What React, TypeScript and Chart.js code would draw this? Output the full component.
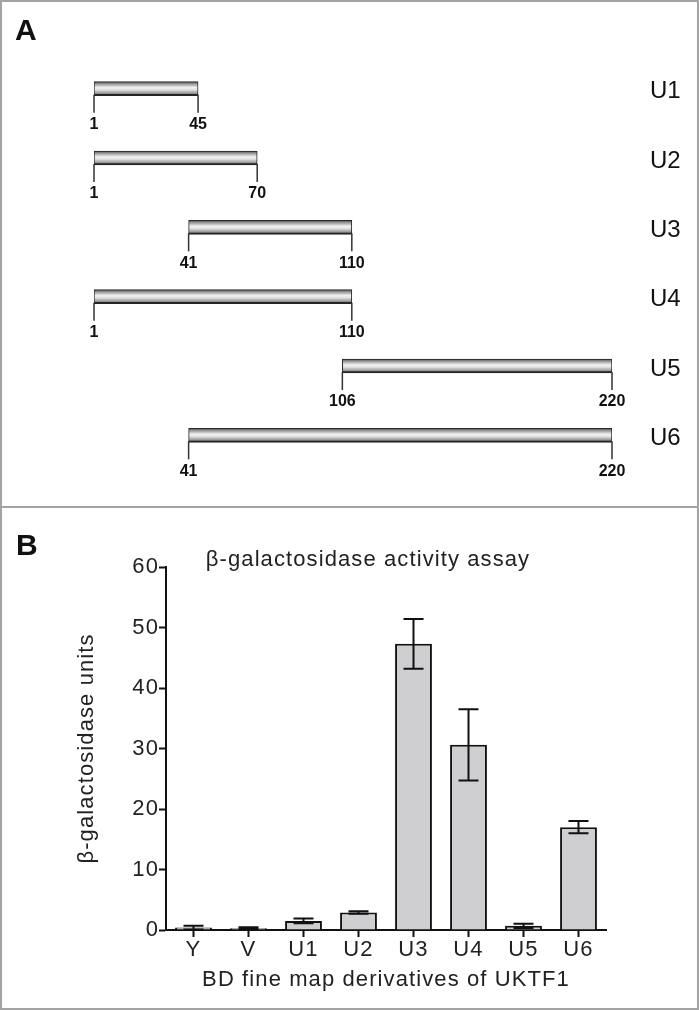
import React, { useEffect, useRef } from "react";
import { Chart, registerables } from "chart.js";

Chart.register(...registerables);

// ---------- Panel A data ----------
const constructNames = ["U1", "U2", "U3", "U4", "U5", "U6"];
const constructStart = [1, 1, 41, 1, 106, 41];
const constructEnd = [45, 70, 110, 110, 220, 220];
const domainMin = 1;
const domainMax = 220;

// ---------- Panel B data ----------
const assayCategories = ["Y", "V", "U1", "U2", "U3", "U4", "U5", "U6"];
const assayMeans = [0.4, 0.3, 1.5, 2.9, 47.3, 30.6, 0.7, 17.0];
const assayErrors = [0.3, 0.15, 0.4, 0.2, 4.1, 5.9, 0.35, 1.0];
const assayTicks = [0, 10, 20, 30, 40, 50, 60];

const FONT = 'Arial, "Liberation Sans", Helvetica, sans-serif';

const textPlugin = (id: string, items: { text: string; x: number; y: number; font: string; align?: CanvasTextAlign; color?: string }[]) => ({
  id,
  afterDraw(chart: any) {
    const ctx = chart.ctx;
    ctx.save();
    items.forEach((it) => {
      ctx.font = it.font;
      ctx.fillStyle = it.color || "#111";
      ctx.textAlign = it.align || "left";
      ctx.textBaseline = "alphabetic";
      ctx.fillText(it.text, it.x, it.y);
    });
    ctx.restore();
  },
});

const spacingPlugin = (px: string) => ({
  id: "letterSpacing",
  beforeDraw(chart: any) {
    try {
      (chart.ctx as any).letterSpacing = px;
    } catch (e) {
      /* unsupported */
    }
  },
});

const endMarksPlugin = {
  id: "endMarks",
  afterDatasetsDraw(chart: any) {
    const ctx = chart.ctx;
    const meta = chart.getDatasetMeta(0);
    ctx.save();
    meta.data.forEach((bar: any, i: number) => {
      const p = bar.getProps(["x", "y", "base", "height"], true);
      const bottom = p.y + p.height / 2;
      ctx.strokeStyle = "#333";
      ctx.lineWidth = 1.5;
      [p.base, p.x].forEach((px: number) => {
        ctx.beginPath();
        ctx.moveTo(px, bottom - 1);
        ctx.lineTo(px, bottom + 17);
        ctx.stroke();
      });
      ctx.fillStyle = "#111";
      ctx.font = `bold 16px ${FONT}`;
      ctx.textAlign = "center";
      ctx.textBaseline = "middle";
      ctx.fillText(String(constructStart[i]), p.base, p.y + 36);
      ctx.fillText(String(constructEnd[i]), p.x, p.y + 36);
    });
    ctx.restore();
  },
};

const errorBarsPlugin = {
  id: "errorBars",
  afterDatasetsDraw(chart: any) {
    const ctx = chart.ctx;
    const ys = chart.scales.y;
    const meta = chart.getDatasetMeta(0);
    ctx.save();
    ctx.strokeStyle = "#111";
    ctx.lineWidth = 2;
    meta.data.forEach((bar: any, i: number) => {
      const x = bar.x;
      const top = ys.getPixelForValue(assayMeans[i] + assayErrors[i]);
      const bot = ys.getPixelForValue(Math.max(0, assayMeans[i] - assayErrors[i]));
      ctx.beginPath();
      ctx.moveTo(x, top);
      ctx.lineTo(x, bot);
      ctx.moveTo(x - 10, top);
      ctx.lineTo(x + 10, top);
      ctx.moveTo(x - 10, bot);
      ctx.lineTo(x + 10, bot);
      ctx.stroke();
    });
    ctx.restore();
  },
};

function barGradient(c: any) {
  const chart = c.chart;
  const ys = chart.scales && chart.scales.y;
  if (!ys || !chart.chartArea) return "#cccccc";
  const yc = ys.getPixelForValue(c.dataIndex);
  if (!isFinite(yc)) return "#cccccc";
  const g = chart.ctx.createLinearGradient(0, yc - 7, 0, yc + 7);
  g.addColorStop(0, "#4a4a4a");
  g.addColorStop(0.14, "#8e8e8e");
  g.addColorStop(0.42, "#f2f2f2");
  g.addColorStop(0.58, "#e2e2e2");
  g.addColorStop(0.84, "#949494");
  g.addColorStop(1, "#444444");
  return g;
}

export default function App() {
  const refA = useRef<HTMLCanvasElement>(null);
  const refB = useRef<HTMLCanvasElement>(null);

  useEffect(() => {
    const chartA = new Chart(refA.current as HTMLCanvasElement, {
      type: "bar",
      data: {
        labels: constructNames,
        datasets: [
          {
            data: constructStart.map((s, i) => [s, constructEnd[i]]) as any,
            backgroundColor: barGradient as any,
            borderColor: "#262626",
            borderWidth: { top: 1, bottom: 2, left: 1, right: 1 } as any,
            borderSkipped: false,
            barThickness: 14,
          },
        ],
      },
      options: {
        indexAxis: "y",
        responsive: false,
        animation: false,
        events: [],
        layout: { padding: { left: 94, right: 0, top: 54, bottom: 37 } },
        plugins: { legend: { display: false }, tooltip: { enabled: false }, title: { display: false } },
        scales: {
          x: { type: "linear", min: domainMin, max: domainMax, display: false },
          y: {
            position: "right",
            grid: { display: true, drawOnChartArea: false, drawTicks: true, tickLength: 38, tickColor: "rgba(0,0,0,0)" },
            border: { display: false },
            ticks: { padding: 0, labelOffset: 3, color: "#111", font: { family: FONT, size: 24 } },
            afterFit: (s: any) => {
              s.width = 87;
            },
          },
        },
      },
      plugins: [endMarksPlugin, textPlugin("labelA", [{ text: "A", x: 15, y: 40, font: `bold 30px ${FONT}` }])],
    });

    const chartB = new Chart(refB.current as HTMLCanvasElement, {
      type: "bar",
      data: {
        labels: assayCategories,
        datasets: [
          {
            data: assayMeans,
            backgroundColor: "#cfcfd1",
            borderColor: "#111",
            borderWidth: 2,
            barPercentage: 0.67,
            categoryPercentage: 1,
          },
        ],
      },
      options: {
        responsive: false,
        animation: false,
        events: [],
        layout: { padding: { left: 70, right: 93, top: 59, bottom: 17 } },
        plugins: { legend: { display: false }, tooltip: { enabled: false }, title: { display: false } },
        scales: {
          x: {
            grid: { offset: false, drawOnChartArea: false, drawTicks: true, tickLength: 7, tickWidth: 2, tickColor: "#111" },
            border: { color: "#111", width: 2 },
            ticks: { padding: 0, color: "#222", font: { family: FONT, size: 22 } },
            title: {
              display: true,
              text: "BD fine map derivatives of UKTF1",
              color: "#222",
              font: { family: FONT, size: 22 },
              padding: { top: 0, bottom: 0 },
            },
            afterFit: (s: any) => {
              s.height = 63;
            },
          },
          y: {
            min: 0,
            max: 60,
            afterBuildTicks: (s: any) => {
              s.ticks = assayTicks.map((v) => ({ value: v }));
            },
            grid: { drawOnChartArea: false, drawTicks: true, tickLength: 7, tickWidth: 2, tickColor: "#111" },
            border: { color: "#111", width: 2 },
            ticks: { padding: 0, color: "#222", font: { family: FONT, size: 22 } },
            title: {
              display: true,
              text: "β-galactosidase units",
              color: "#222",
              font: { family: FONT, size: 22 },
              padding: { top: 4, bottom: 0 },
            },
            afterFit: (s: any) => {
              s.width = 96;
            },
          },
        },
      },
      plugins: [
        spacingPlugin("1.1px"),
        errorBarsPlugin,
        textPlugin("labelsB", [
          { text: "B", x: 16, y: 47, font: `bold 30px ${FONT}` },
          { text: "β-galactosidase activity assay", x: 368, y: 58, font: `22px ${FONT}`, align: "center", color: "#222" },
        ]),
      ],
    });

    return () => {
      chartA.destroy();
      chartB.destroy();
    };
  }, []);

  return (
    <div style={{ position: "absolute", left: 0, top: 0, width: 699, height: 1010, background: "#fff", overflow: "hidden" }}>
      <canvas ref={refA} width={699} height={507} style={{ position: "absolute", left: 0, top: 0, display: "block" }} />
      <canvas ref={refB} width={699} height={502} style={{ position: "absolute", left: 0, top: 508, display: "block" }} />
      <div
        style={{
          position: "absolute",
          left: 0,
          top: 0,
          width: 699,
          height: 1010,
          boxSizing: "border-box",
          border: "2px solid #a3a3a3",
          pointerEvents: "none",
        }}
      />
      <div style={{ position: "absolute", left: 0, top: 506, width: 699, height: 2, background: "#a3a3a3", pointerEvents: "none" }} />
    </div>
  );
}
